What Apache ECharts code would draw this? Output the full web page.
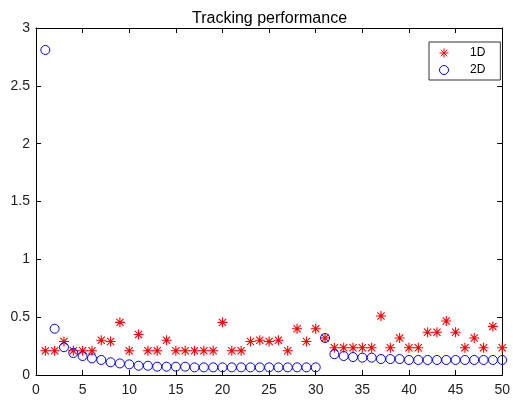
<!DOCTYPE html>
<html>
<head>
<meta charset="utf-8">
<script src="https://cdn.jsdelivr.net/npm/echarts@6/dist/echarts.min.js"></script>
<style>html,body{margin:0;padding:0;background:#fff}#c{width:513px;height:400px}</style>
</head>
<body>
<div id="c"></div>
<script>
var titleText = 'Tracking performance';
var seriesNames = ['1D', '2D'];
var xValues = [1,2,3,4,5,6,7,8,9,10,11,12,13,14,15,16,17,18,19,20,21,22,23,24,25,26,27,28,29,30,31,32,33,34,35,36,37,38,39,40,41,42,43,44,45,46,47,48,49,50];
var values1D = [0.21,0.21,0.29,0.21,0.21,0.21,0.30,0.29,0.455,0.21,0.35,0.21,0.21,0.30,0.21,0.21,0.21,0.21,0.21,0.455,0.21,0.21,0.29,0.30,0.29,0.30,0.21,0.40,0.29,0.40,0.32,0.236,0.236,0.236,0.236,0.236,0.51,0.236,0.32,0.236,0.236,0.37,0.37,0.467,0.37,0.236,0.32,0.236,0.42,0.236];
var values2D = [2.81,0.40,0.24,0.19,0.164,0.144,0.13,0.11,0.10,0.092,0.08,0.08,0.072,0.072,0.072,0.072,0.066,0.066,0.066,0.066,0.066,0.066,0.066,0.066,0.066,0.066,0.066,0.066,0.066,0.066,0.32,0.18,0.164,0.155,0.15,0.15,0.138,0.138,0.138,0.13,0.13,0.13,0.13,0.13,0.13,0.13,0.13,0.13,0.13,0.13];
var xTicks = {min: 0, max: 50, interval: 5};
var yTicks = {min: 0, max: 3, interval: 0.5};

function pairs(xs, ys){ return xs.map(function(x,i){ return [x, ys[i]]; }); }

var asterisk = 'path://M0,-5L0,5M-5,0L5,0M-3.6,-3.6L3.6,3.6M-3.6,3.6L3.6,-3.6';
var font = 'Liberation Sans, Arial, sans-serif';
var axisCommon = {
  axisLine: {show: true, onZero: false, lineStyle: {color: '#000', width: 1}},
  axisTick: {show: true, inside: true, length: 5, lineStyle: {color: '#000'}},
  splitLine: {show: false}
};
var chart = echarts.init(document.getElementById('c'), null, {renderer: 'canvas'});
chart.setOption({
  animation: false,
  backgroundColor: '#fff',
  title: {text: titleText, left: 187, top: 6,
    textStyle: {fontFamily: font, fontSize: 16, fontWeight: 'normal', color: '#000'}},
  grid: {left: 36, right: 6, top: 28, bottom: 25, containLabel: false},
  legend: {
    orient: 'vertical', left: 429, top: 42,
    backgroundColor: '#fff', borderColor: '#333', borderWidth: 1,
    padding: [5, 15, 4, 10], itemGap: 5, itemWidth: 22, itemHeight: 9,
    textStyle: {fontFamily: font, fontSize: 12, color: '#000', padding: [0,0,0,10]},
    data: [
      {name: seriesNames[0], icon: asterisk, itemStyle: {color: 'transparent', borderColor: '#ff0000', borderWidth: 1}},
      {name: seriesNames[1], icon: 'circle', itemStyle: {color: 'transparent', borderColor: '#0000ff', borderWidth: 1}}
    ]
  },
  xAxis: [
    Object.assign({type: 'value', position: 'bottom', min: xTicks.min, max: xTicks.max, interval: xTicks.interval,
      axisLabel: {color: '#222', fontFamily: font, fontSize: 14, margin: 8}}, axisCommon),
    Object.assign({type: 'value', position: 'top', min: xTicks.min, max: xTicks.max, interval: xTicks.interval,
      axisLabel: {show: false}}, axisCommon)
  ],
  yAxis: [
    Object.assign({type: 'value', position: 'left', min: yTicks.min, max: yTicks.max, interval: yTicks.interval,
      axisLabel: {color: '#222', fontFamily: font, fontSize: 14, margin: 6}}, axisCommon),
    Object.assign({type: 'value', position: 'right', min: yTicks.min, max: yTicks.max, interval: yTicks.interval,
      axisLabel: {show: false}}, axisCommon)
  ],
  series: [
    {name: seriesNames[0], type: 'scatter', xAxisIndex: 0, yAxisIndex: 0,
      symbol: asterisk, symbolSize: 10,
      itemStyle: {color: 'transparent', borderColor: '#ff0000', borderWidth: 1.1, opacity: 1},
      data: pairs(xValues, values1D)},
    {name: seriesNames[1], type: 'scatter', xAxisIndex: 0, yAxisIndex: 0,
      symbol: 'circle', symbolSize: 9,
      itemStyle: {color: 'transparent', borderColor: '#0000ff', borderWidth: 1, opacity: 1},
      data: pairs(xValues, values2D)}
  ]
});
</script>
</body>
</html>
